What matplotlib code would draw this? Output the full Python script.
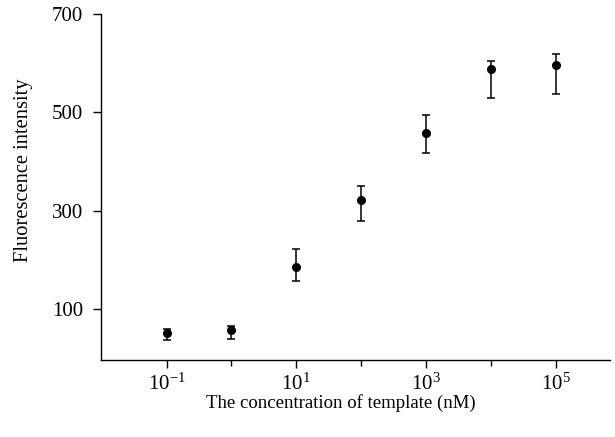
import numpy as np
import matplotlib.pyplot as plt
from matplotlib.ticker import FixedLocator, FixedFormatter

plt.rcParams['font.family'] = ['Liberation Serif', 'DejaVu Serif']
plt.rcParams['mathtext.fontset'] = 'custom'
plt.rcParams['mathtext.rm'] = 'Liberation Serif'
plt.rcParams['mathtext.it'] = 'Liberation Serif:italic'

# 주형 농도 (nM) 와 형광 세기
conc = [1e-1, 1e0, 1e1, 1e2, 1e3, 1e4, 1e5]
intensity = [51, 57, 185, 323, 459, 589, 597]
err_low = [13, 17, 28, 44, 41, 60, 60]
err_high = [9, 9, 38, 27, 36, 15, 22]

fig = plt.figure(figsize=(6.15, 4.37), dpi=100)
ax = fig.add_axes([0.1642, 0.1762, 0.828, 0.792])

ax.errorbar(conc, intensity, yerr=[err_low, err_high], fmt='o', color='k',
            markersize=5.5, capsize=3, elinewidth=1.1, capthick=1.1)

ax.set_xscale('log')
ax.set_xlim(10**-2.01, 10**5.84)
ax.set_ylim(-3, 700)

ax.xaxis.set_major_locator(FixedLocator([1e-1, 1e1, 1e3, 1e5]))
ax.xaxis.set_major_formatter(FixedFormatter([r'$10^{-1}$', r'$10^{1}$', r'$10^{3}$', r'$10^{5}$']))
ax.xaxis.set_minor_locator(FixedLocator([1e0, 1e2, 1e4]))
ax.xaxis.set_minor_formatter(FixedFormatter(['', '', '']))
ax.set_yticks([100, 300, 500, 700])

ax.tick_params(axis='both', which='major', length=6, width=1, labelsize=15, direction='out')
ax.tick_params(axis='x', which='minor', length=4.5, width=1, direction='out')
ax.tick_params(axis='y', which='major', pad=7)
ax.tick_params(axis='x', which='major', pad=4)

for side in ['top', 'right']:
    ax.spines[side].set_visible(False)
for side in ['left', 'bottom']:
    ax.spines[side].set_linewidth(1)

ax.set_xlabel('The concentration of template (nM)', fontsize=13.5)
ax.set_ylabel('Fluorescence intensity', fontsize=14.8)
ax.xaxis.set_label_coords(0.47, -0.097)
ax.yaxis.set_label_coords(-0.134, 0.549)

fig.savefig('out.png', dpi=100)
